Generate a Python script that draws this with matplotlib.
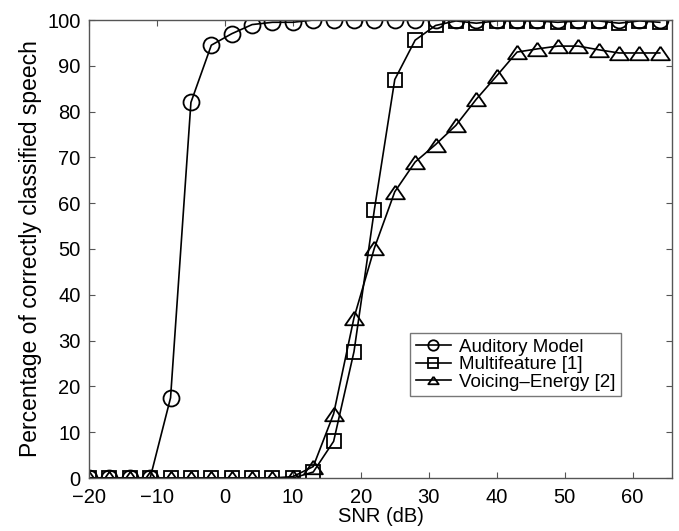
import matplotlib
matplotlib.use("Agg")
import matplotlib.pyplot as plt

plt.rcParams['font.family'] = ['Liberation Sans', 'DejaVu Sans']

snr = [-20, -17, -14, -11, -8, -5, -2, 1, 4, 7, 10, 13, 16, 19, 22, 25, 28, 31,
       34, 37, 40, 43, 46, 49, 52, 55, 58, 61, 64]
auditory = [0, 0, 0, 0, 17.5, 82, 94.5, 97, 99, 99.5, 99.5, 100, 100, 100, 100, 100,
            100, 100, 100, 100, 100, 100, 100, 100, 100, 100, 100, 100, 100]
multifeature = [0, 0, 0, 0, 0, 0, 0, 0, 0, 0, 0, 1.3, 8, 27.6, 58.6, 87, 95.6, 98.8,
                99.8, 99.3, 99.8, 99.8, 99.8, 99.5, 99.8, 99.8, 99.3, 99.8, 99.5]
voicing = [0, 0, 0, 0, 0, 0, 0, 0, 0, 0, 0.3, 2.5, 14, 35, 50.2, 62.5, 69, 72.8,
           77, 82.7, 87.8, 93, 93.7, 94.3, 94.3, 93.5, 92.8, 92.8, 92.8]
labels = ['Auditory Model', 'Multifeature [1]', 'Voicing\u2013Energy [2]']
xticks = [-20, -10, 0, 10, 20, 30, 40, 50, 60]
yticks = [0, 10, 20, 30, 40, 50, 60, 70, 80, 90, 100]

fig = plt.figure(figsize=(6.79, 5.31), dpi=100)
ax = fig.add_axes([89/679, 1 - 478/531, (672-89)/679, (478-20)/531])

tri = [(0, 0.72), (-1, -0.72), (1, -0.72), (0, 0.72)]
mk = dict(color='black', lw=1.2, markerfacecolor='none', markeredgecolor='black',
          markeredgewidth=1.3)
ax.plot(snr, auditory, marker='o', markersize=11.5, label=labels[0], **mk)
ax.plot(snr, multifeature, marker='s', markersize=9.5, label=labels[1], **mk)
ax.plot(snr, voicing, marker=tri, markersize=13.5, label=labels[2], **mk)

ax.set_xlim(-20, 65.8)
ax.set_ylim(0, 100)
ax.set_xticks(xticks)
ax.set_xticklabels([str(t).replace('-', '\u2212') for t in xticks])
ax.set_yticks(yticks)
ax.tick_params(direction='in', top=True, right=True, length=4.5, width=0.8,
               color='#555555', labelsize=14.5)
ax.tick_params(axis='x', pad=7)
ax.tick_params(axis='y', pad=6)
for s in ax.spines.values():
    s.set_color('#555555')
    s.set_linewidth(1.0)
ax.set_xlabel('SNR (dB)', fontsize=14.5, labelpad=0.5)
ax.set_ylabel('Percentage of correctly classified speech', fontsize=16.5, labelpad=4)

leg = ax.legend(loc='upper left', bbox_to_anchor=((410-89)/583, (478-333)/458),
                fontsize=13.5, frameon=True, fancybox=False, edgecolor='#555555',
                borderpad=0.3, labelspacing=0.02, handlelength=1.9, handletextpad=0.4,
                borderaxespad=0)
leg.get_frame().set_linewidth(1.0)
for h in leg.legend_handles:
    h.set_markersize(7.5)

fig.savefig('out.png', dpi=100)
